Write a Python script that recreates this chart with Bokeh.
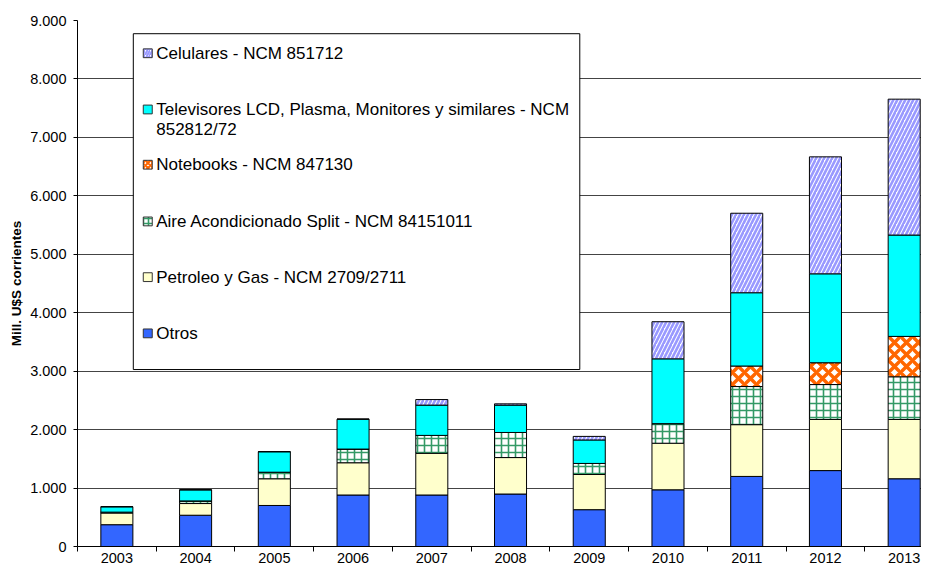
from bokeh.plotting import figure
from bokeh.models import ColumnDataSource, Range1d, FixedTicker
from bokeh.core.properties import value
from bokeh.transform import stack
from bokeh.embed import file_html
from bokeh.resources import INLINE

years = ["2003", "2004", "2005", "2006", "2007", "2008", "2009", "2010", "2011", "2012", "2013"]
otros = [373, 535, 702, 881, 881, 898, 630, 970, 1199, 1299, 1159]
petroleo = [200, 200, 457, 552, 713, 624, 602, 797, 886, 875, 1015]
aire = [15, 45, 112, 234, 307, 429, 189, 335, 652, 597, 730]
notebooks = [0, 0, 0, 0, 0, 0, 0, 0, 351, 373, 691]
televisores = [92, 190, 351, 512, 518, 468, 402, 1109, 1254, 1522, 1734]
celulares = [0, 0, 0, 0, 95, 22, 61, 635, 1360, 2001, 2325]

series_keys = ["otros", "petroleo", "aire", "notebooks", "televisores", "celulares"]
legend_labels = {
    "celulares": ["Celulares - NCM 851712"],
    "televisores": ["Televisores LCD, Plasma, Monitores y similares - NCM", "852812/72"],
    "notebooks": ["Notebooks - NCM 847130"],
    "aire": ["Aire Acondicionado  Split - NCM 84151011"],
    "petroleo": ["Petroleo y Gas - NCM 2709/2711"],
    "otros": ["Otros"],
}
y_ticks = [0, 1000, 2000, 3000, 4000, 5000, 6000, 7000, 8000, 9000]
y_tick_labels = ["0", "1.000", "2.000", "3.000", "4.000", "5.000", "6.000", "7.000", "8.000", "9.000"]

FONT = "Liberation Sans"

styles = {
    "otros": dict(fill="#3366FF", pat=None, hc="#3366FF", hw=1, hs=8),
    "petroleo": dict(fill="#FFFFCC", pat=None, hc="#FFFFCC", hw=1, hs=8),
    "aire": dict(fill="#FFFFFF", pat="cross", hc="#339966", hw=1.6, hs=7),
    "notebooks": dict(fill="#FFFFFF", pat="diagonal_cross", hc="#FF6600", hw=3.5, hs=12),
    "televisores": dict(fill="#00FFFF", pat=None, hc="#00FFFF", hw=1, hs=8),
    "celulares": dict(fill="#FFFFFF", pat="right_diagonal_line", hc="#9999FF", hw=2.6, hs=8),
}

src = ColumnDataSource(dict(
    x=list(range(len(years))),
    otros=otros, petroleo=petroleo, aire=aire, notebooks=notebooks,
    televisores=televisores, celulares=celulares,
))

p = figure(width=921, height=565, output_backend="svg", toolbar_location=None,
           x_range=Range1d(-0.5, 10.22), y_range=Range1d(0, 9000),
           min_border_right=0, min_border_top=20, min_border_left=77)
p.outline_line_color = None
p.background_fill_color = "white"
p.xgrid.visible = False
p.ygrid.grid_line_color = "#444444"
p.ygrid.grid_line_width = 1

for i, k in enumerate(series_keys):
    st = styles[k]
    kw = dict(fill_color=st["fill"], line_color="black", line_width=1)
    if st["pat"] is not None:
        kw.update(hatch_pattern=st["pat"], hatch_color=st["hc"],
                  hatch_weight=st["hw"], hatch_scale=st["hs"])
    p.vbar(x="x", width=0.407, bottom=stack(*series_keys[:i]),
           top=stack(*series_keys[:i + 1]), source=src, **kw)

# axes
xa = p.xaxis[0]
xa.ticker = FixedTicker(ticks=list(range(len(years))),
                        minor_ticks=[i + 0.5 for i in range(-1, len(years))])
xa.major_label_overrides = {i: y for i, y in enumerate(years)}
xa.major_tick_out = 0
xa.major_tick_in = 0
xa.minor_tick_out = 5
xa.minor_tick_in = 0
xa.major_label_standoff = 1
xa.axis_line_color = "black"
xa.minor_tick_line_color = "black"
xa.major_label_text_font = FONT
xa.major_label_text_font_size = "14.5px"
xa.major_label_text_color = "black"

ya = p.yaxis[0]
ya.ticker = FixedTicker(ticks=y_ticks, minor_ticks=[])
ya.major_label_overrides = {t: l for t, l in zip(y_ticks, y_tick_labels)}
ya.major_tick_out = 4
ya.major_tick_in = 0
ya.minor_tick_out = 0
ya.minor_tick_in = 0
ya.major_label_standoff = 7
ya.axis_line_color = "black"
ya.major_tick_line_color = "black"
ya.major_label_text_font = FONT
ya.major_label_text_font_size = "14.5px"
ya.major_label_text_color = "black"
ya.axis_label = "Mill. U$S corrientes"
ya.axis_label_text_font = FONT
ya.axis_label_text_font_size = "13.5px"
ya.axis_label_text_font_style = "bold"
ya.axis_label_text_color = "black"
ya.axis_label_standoff = 3


# legend drawn in data space, converted from the reference pixel layout
def dx(px):
    return -0.5 + (px - 77) / 79.0


def dy(py):
    return (558 - py) / 0.05978


p.quad(left=[dx(133)], right=[dx(581)], top=[dy(33.5)], bottom=[dy(377)],
       fill_color="white", line_color="black", line_width=1)

entry_order = ["celulares", "televisores", "notebooks", "aire", "petroleo", "otros"]
entry_y = [53.5, 111, 167.5, 225.5, 282.5, 340]
for k, ey in zip(entry_order, entry_y):
    st = styles[k]
    kw = dict(fill_color=st["fill"], line_color="#333333", line_width=1)
    if st["pat"] is not None:
        kw.update(hatch_pattern=st["pat"], hatch_color=st["hc"],
                  hatch_weight=min(st["hw"], 2), hatch_scale=5)
    p.quad(left=[dx(143)], right=[dx(152)], top=[dy(ey - 4.5)], bottom=[dy(ey + 4.5)], **kw)
    for j, line in enumerate(legend_labels[k]):
        p.text(x=[dx(156)], y=[dy(ey + j * 20.7)], text=[line],
               text_font=value(FONT), text_font_size="17px",
               text_baseline="middle", text_align="left", text_color="black")

open("out.html", "w").write(file_html(p, INLINE))
